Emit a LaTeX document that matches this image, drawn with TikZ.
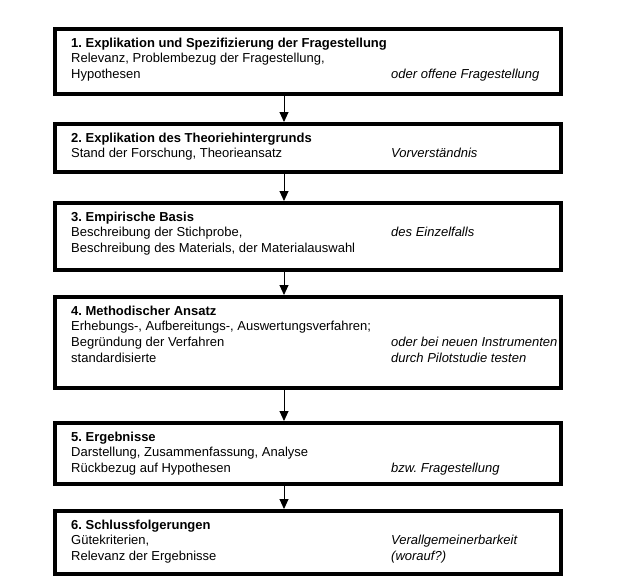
\documentclass[tikz,border=0pt]{standalone}
\usepackage{fontspec}
\setmainfont{Liberation Sans}
\usepackage{array}
\usetikzlibrary{arrows.meta,positioning}

\newcolumntype{R}{>{\itshape}l}

\begin{document}
\begin{tikzpicture}[
    x=1pt, y=1pt,
    stage/.style={rectangle, draw=black, line width=4pt, outer sep=0pt, inner sep=0pt,
        minimum width=506pt},
    stagetext/.style={anchor=north west, inner sep=0pt, font=\fontsize{13}{15.7}\selectfont\frenchspacing},
    flow/.style={-{Triangle[width=9pt,length=10pt]}, line width=0.9pt, shorten <=2pt, shorten >=2pt}
]
\useasboundingbox (0,0) rectangle (640,-584);
\coordinate (ax) at (284,0);

\node[stage, minimum height=65pt] (s1) at (308,-61.5) {};
\node[stage, minimum height=48pt, below=30pt of s1] (s2) {};
\node[stage, minimum height=67pt, below=31pt of s2] (s3) {};
\node[stage, minimum height=91pt, below=27pt of s3] (s4) {};
\node[stage, minimum height=61pt, below=35pt of s4] (s5) {};
\node[stage, minimum height=63pt, below=27pt of s5] (s6) {};

\node[stagetext, below right=7pt and 16pt of s1.north west] (t1) {%
\begin{tabular}{@{}p{320pt}@{}R@{}}
\multicolumn{2}{@{}l@{}}{\textbf{1. Explikation und Spezifizierung der Fragestellung}}\\
Relevanz, Problembezug der Fragestellung, & \\
Hypothesen & oder offene Fragestellung
\end{tabular}};
\node[stagetext, below right=7pt and 16pt of s2.north west] (t2) {%
\begin{tabular}{@{}p{320pt}@{}R@{}}
\multicolumn{2}{@{}l@{}}{\textbf{2. Explikation des Theoriehintergrunds}}\\
Stand der Forschung, Theorieansatz & Vorverständnis
\end{tabular}};
\node[stagetext, below right=7pt and 16pt of s3.north west] (t3) {%
\begin{tabular}{@{}p{320pt}@{}R@{}}
\multicolumn{2}{@{}l@{}}{\textbf{3. Empirische Basis}}\\
Beschreibung der Stichprobe, & des Einzelfalls\\
Beschreibung des Materials, der Materialauswahl &
\end{tabular}};
\node[stagetext, below right=7pt and 16pt of s4.north west] (t4) {%
\begin{tabular}{@{}p{320pt}@{}R@{}}
\multicolumn{2}{@{}l@{}}{\textbf{4. Methodischer Ansatz}}\\
\multicolumn{2}{@{}l@{}}{Erhebungs-, Aufbereitungs-, Auswertungsverfahren;}\\
Begründung der Verfahren & oder bei neuen Instrumenten\\
standardisierte & durch Pilotstudie testen
\end{tabular}};
\node[stagetext, below right=7pt and 16pt of s5.north west] (t5) {%
\begin{tabular}{@{}p{320pt}@{}R@{}}
\multicolumn{2}{@{}l@{}}{\textbf{5. Ergebnisse}}\\
Darstellung, Zusammenfassung, Analyse & \\
Rückbezug auf Hypothesen & bzw. Fragestellung
\end{tabular}};
\node[stagetext, below right=7pt and 16pt of s6.north west] (t6) {%
\begin{tabular}{@{}p{320pt}@{}R@{}}
\multicolumn{2}{@{}l@{}}{\textbf{6. Schlussfolgerungen}}\\
Gütekriterien, & Verallgemeinerbarkeit\\
Relevanz der Ergebnisse & (worauf?)
\end{tabular}};

\draw[flow] (s1.south -| ax) -- (s2.north -| ax);
\draw[flow] (s2.south -| ax) -- (s3.north -| ax);
\draw[flow] (s3.south -| ax) -- (s4.north -| ax);
\draw[flow] (s4.south -| ax) -- (s5.north -| ax);
\draw[flow] (s5.south -| ax) -- (s6.north -| ax);
\end{tikzpicture}
\end{document}
